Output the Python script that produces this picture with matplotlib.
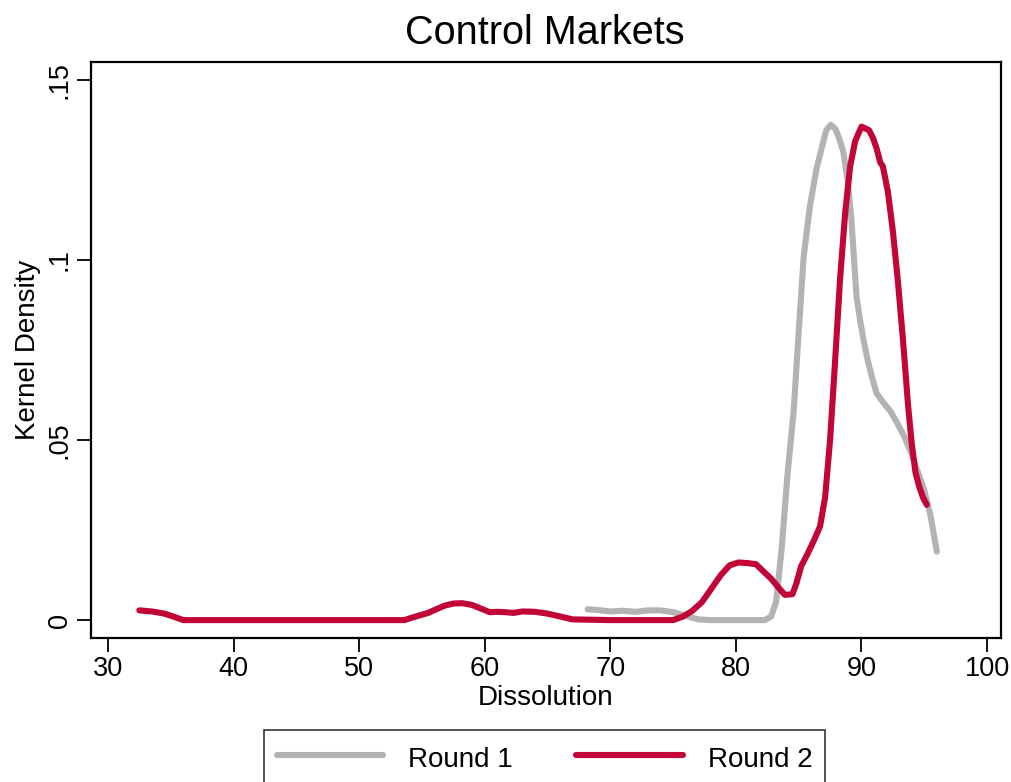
import matplotlib.pyplot as plt

plt.rcParams['font.family'] = ['Liberation Sans', 'DejaVu Sans']

# Round 1 kernel density
r1_x = [68.2, 69, 70, 71, 72, 73, 74, 75, 76, 77, 78, 80, 82.3, 82.8, 83.2, 83.65,
        84.1, 84.6, 85.0, 85.4, 85.9, 86.4, 86.9, 87.2, 87.55, 87.9, 88.2, 88.55,
        88.9, 89.2, 89.6, 89.9, 90.15, 90.5, 90.95, 91.2, 91.6, 92.3, 92.8, 93.4,
        94.0, 94.4, 95.0, 95.5, 96.0]
r1_y = [.003, .0028, .0024, .0026, .0023, .0027, .0027, .0022, .0012, .0002, 0, 0, 0,
        .001, .005, .02, .04, .058, .08, .101, .115, .125, .132, .136, .1375, .1365,
        .134, .13, .122, .111, .09, .083, .078, .072, .066, .063, .061, .058, .055,
        .051, .046, .042, .036, .029, .019]

# Round 2 kernel density
r2_x = [32.5, 33.5, 34.5, 35.2, 36, 40, 45, 50, 53.6, 54.5, 55.5, 56, 56.8, 57.5,
        58.2, 59, 59.7, 60.4, 61, 61.6, 62.3, 63, 64, 65, 66, 67, 70, 75, 75.8, 76.5,
        77.3, 78, 78.8, 79.5, 80.2, 81, 81.6, 82.2, 82.8, 83.4, 83.9, 84.5, 84.8,
        85.2, 85.65, 86.2, 86.7, 87.1, 87.5, 87.9, 88.3, 88.7, 89.1, 89.5, 90.0,
        90.3, 90.6, 90.9, 91.2, 91.5, 91.7, 92.1, 92.5, 92.9, 93.3, 93.7, 94.0, 94.3,
        94.6, 94.9, 95.2]
r2_y = [.0027, .0024, .0018, .001, 0, 0, 0, 0, 0, .001, .002, .0028, .004, .0046,
        .0047, .0042, .0032, .0022, .0023, .0022, .0020, .0024, .0023, .0018, .001,
        .0002, 0, 0, .001, .0025, .005, .0085, .0125, .0152, .016, .0158, .0155,
        .0135, .0115, .009, .007, .0072, .01, .015, .018, .022, .026, .034, .05,
        .072, .095, .113, .126, .133, .137, .1365, .136, .134, .131, .127, .126,
        .119, .108, .094, .078, .06, .049, .041, .037, .034, .032]

x_ticks = [30, 40, 50, 60, 70, 80, 90, 100]
y_ticks = [0, 0.05, 0.1, 0.15]
y_labels = ['0', '.05', '.1', '.15']

fig = plt.figure(figsize=(10.11, 7.82), dpi=100)
ax = fig.add_axes([0.090, 0.184, 0.900, 0.737])

ax.plot(r1_x, r1_y, color='#b3b3b3', lw=4.4, solid_capstyle='round', label='Round 1')
ax.plot(r2_x, r2_y, color='#c10534', lw=4.4, solid_capstyle='round', label='Round 2')

ax.set_xlim(28.65, 101.1)
ax.set_ylim(-0.005, 0.155)
ax.set_xticks(x_ticks)
ax.set_yticks(y_ticks)
ax.set_yticklabels(y_labels, rotation=90, va='center')
ax.tick_params(labelsize=19.5, length=10, width=1.3, direction='out', pad=3)
for s in ax.spines.values():
    s.set_linewidth(1.6)

ax.set_xlabel('Dissolution', fontsize=20, labelpad=2)
ax.set_ylabel('Kernel Density', fontsize=20, labelpad=4)
fig.text(0.539, 1 - 33 / 782, 'Control Markets', fontsize=28.5, ha='center', va='center')

# legend box runs off the bottom edge, as in the original export
leg = fig.legend(loc='upper left', bbox_to_anchor=(264 / 1011, 1 - 730 / 782), ncol=2,
                 fontsize=20, frameon=True, fancybox=False, edgecolor='black',
                 handlelength=3.85, columnspacing=2.25, handletextpad=0.9,
                 handleheight=1.35, borderpad=0.45, borderaxespad=0)
leg.get_frame().set_linewidth(1.2)

fig.savefig('out.png', dpi=100)
